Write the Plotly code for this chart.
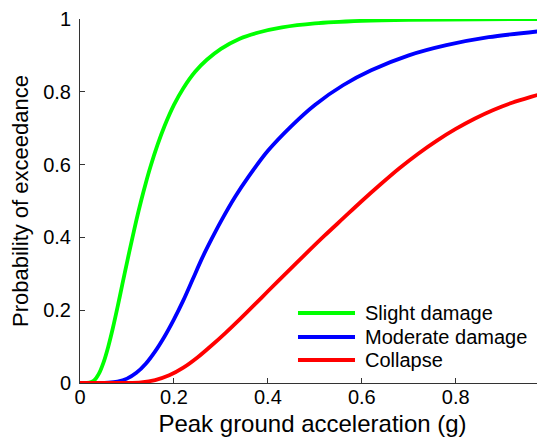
import plotly.graph_objects as go

# Peak ground acceleration (g) and read-off probabilities of exceedance
slight_x = [0.0, 0.02, 0.03, 0.04, 0.05, 0.06, 0.07, 0.08, 0.09, 0.10, 0.11, 0.12, 0.13, 0.14,
            0.15, 0.165, 0.18, 0.2, 0.22, 0.245, 0.27, 0.3, 0.34, 0.38, 0.43, 0.5, 0.6, 0.7,
            0.85, 0.99]
slight_y = [0.0, 0.001, 0.007, 0.025, 0.056, 0.099, 0.151, 0.209, 0.270, 0.331, 0.390, 0.447,
            0.500, 0.549, 0.594, 0.654, 0.706, 0.764, 0.810, 0.855, 0.888, 0.918, 0.946, 0.963,
            0.977, 0.988, 0.995, 0.998, 0.999, 1.0]

moderate_x = [0.0, 0.06, 0.08, 0.10, 0.12, 0.14, 0.16, 0.18, 0.20, 0.22, 0.24, 0.26, 0.28,
              0.30, 0.33, 0.36, 0.40, 0.45, 0.50, 0.56, 0.62, 0.70, 0.78, 0.87, 0.99]
moderate_y = [0.0, 0.001, 0.004, 0.012, 0.028, 0.053, 0.087, 0.128, 0.175, 0.227, 0.285, 0.343,
              0.395, 0.444, 0.511, 0.569, 0.638, 0.706, 0.764, 0.818, 0.859, 0.900, 0.928,
              0.950, 0.968]

collapse_x = [0.0, 0.10, 0.13, 0.16, 0.19, 0.22, 0.25, 0.28, 0.31, 0.34, 0.37, 0.40, 0.44, 0.48,
              0.52, 0.56, 0.60, 0.64, 0.68, 0.72, 0.76, 0.80, 0.84, 0.88, 0.92, 0.96, 0.99]
collapse_y = [0.0, 0.0005, 0.002, 0.008, 0.021, 0.042, 0.070, 0.103, 0.138, 0.175, 0.213, 0.252,
              0.303, 0.354, 0.404, 0.452, 0.500, 0.546, 0.590, 0.630, 0.666, 0.698, 0.726, 0.750,
              0.770, 0.786, 0.797]

x_ticks = [0, 0.2, 0.4, 0.6, 0.8]
x_tick_text = ["0", "0.2", "0.4", "0.6", "0.8"]
y_ticks = [0, 0.2, 0.4, 0.6, 0.8, 1.0]
y_tick_text = ["0", "0.2", "0.4", "0.6", "0.8", "1"]

series_names = ["Slight damage", "Moderate damage", "Collapse"]
series_colors = ["#00FF00", "#0000FF", "#FF0000"]
series_x = [slight_x, moderate_x, collapse_x]
series_y = [slight_y, moderate_y, collapse_y]

font_family = "Liberation Sans, Arial, Helvetica, sans-serif"

fig = go.Figure()
for name, xs, ys, col in zip(series_names, series_x, series_y, series_colors):
    fig.add_trace(go.Scatter(x=xs, y=ys, mode="lines", name=name, showlegend=False,
                             line=dict(color=col, width=3.8, shape="spline", smoothing=0.8)))

# Legend drawn as sample lines + text (paper coordinates of the plot area)
legend_rows_y = [0.1923, 0.1264, 0.0632]
for name, col, ly in zip(series_names, series_colors, legend_rows_y):
    fig.add_shape(type="line", xref="paper", yref="paper", x0=0.4688, x1=0.5914, y0=ly, y1=ly,
                  line=dict(color=col, width=3.8))
    fig.add_annotation(xref="paper", yref="paper", x=0.6086, y=ly, text=name, showarrow=False,
                       xanchor="left", yanchor="middle",
                       font=dict(size=20, family=font_family, color="black"))

# The page body has an 8px margin, so the figure is sized to fit the 545x437 window
fig.update_layout(
    width=537, height=429,
    margin=dict(l=72, r=0, t=11, b=54),
    paper_bgcolor="white", plot_bgcolor="white",
    font=dict(family=font_family, size=20, color="black"),
    showlegend=False,
    xaxis=dict(range=[0, 0.99], tickvals=x_ticks, ticktext=x_tick_text,
               ticks="inside", ticklen=5, tickcolor="#333", showgrid=False, zeroline=False,
               showline=True, linecolor="#333", linewidth=1, mirror=False,
               ticklabelstandoff=-4,
               title=dict(text="Peak ground acceleration (g)", font=dict(size=24), standoff=10),
               automargin=False),
    yaxis=dict(range=[0, 1], tickvals=y_ticks, ticktext=y_tick_text,
               ticks="inside", ticklen=5, tickcolor="#333", showgrid=False, zeroline=False,
               showline=True, linecolor="#333", linewidth=1, mirror=False,
               ticklabelstandoff=4,
               title=dict(text="Probability of exceedance", font=dict(size=22), standoff=8),
               automargin=False),
)

fig.write_html("out.html")
